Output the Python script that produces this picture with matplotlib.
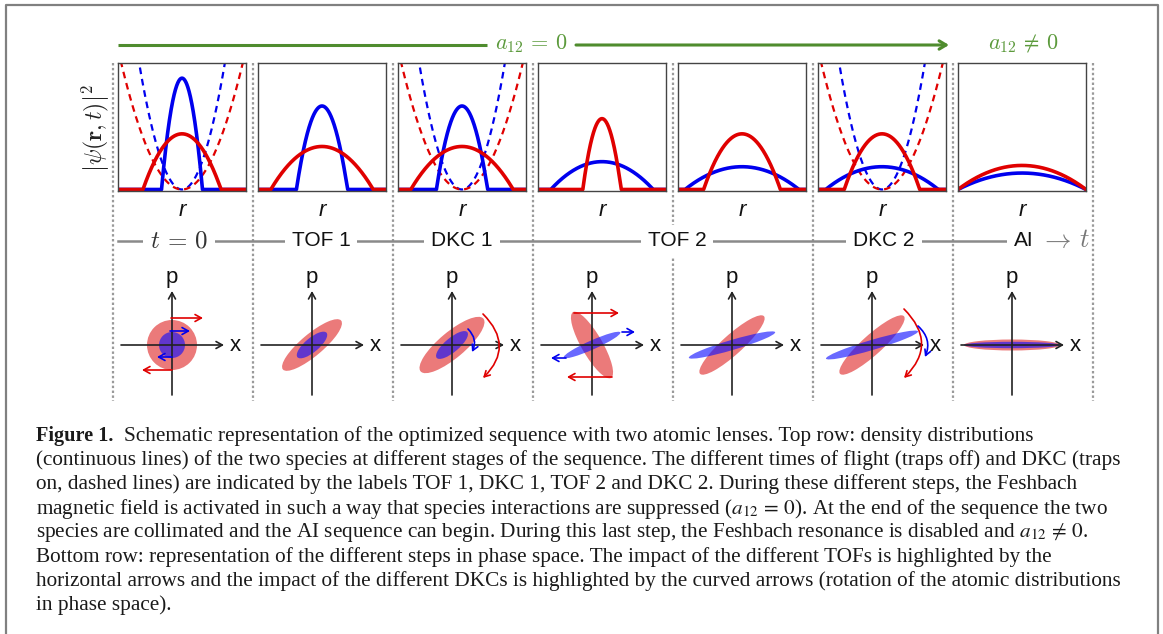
import numpy as np
import matplotlib
matplotlib.use('Agg')
import matplotlib.pyplot as plt
from matplotlib.patches import Ellipse, FancyArrowPatch

# ---------------- data ----------------
stage_labels = ['TOF 1', 'DKC 1', 'TOF 2', 'DKC 2']
# top row: Thomas-Fermi density profiles (peak height, radius), normalized box units
red_peak = [0.44, 0.34, 0.34, 0.56, 0.44, 0.44, 0.19]
red_radius = [0.61, 0.80, 0.80, 0.30, 0.60, 0.59, 1.00]
blue_peak = [0.88, 0.66, 0.66, 0.22, 0.18, 0.18, 0.13]
blue_radius = [0.32, 0.40, 0.40, 0.80, 0.89, 0.88, 1.00]
# dashed harmonic traps: half-width where potential reaches top of box (None = trap off)
red_trap = [0.95, None, 0.95, None, None, 0.95, None]
blue_trap = [0.67, None, 0.67, None, None, 0.67, None]

# bottom row: phase-space ellipses (semi-major, semi-minor, angle in degrees)
red_a = [25, 38, 41, 38, 43, 43, 48]
red_b = [25, 11, 13, 10.5, 10, 10, 5.5]
red_ang = [0, 40, 40, 120, 42, 42, 0]
blue_a = [13, 19, 20, 31, 45, 48, 48]
blue_b = [13, 7, 7, 4.5, 5, 5, 3.2]
blue_ang = [0, 40, 40, 24, 16.5, 16.5, 0]
# TOF horizontal arrows: (x_start, y, x_end)
red_tof = {0: [(-1, 27, 31), (0, -25, -30)], 3: [(-18, 32, 27), (20, -32, -25)]}
blue_tof = {0: [(-2, 14, 18), (0, -12, -15)], 3: [(30, 13, 43), (-26, -13, -41)]}
# DKC curved arrows: (start, end, curvature)
red_dkc = {2: ((31, 31), (31, -33), -0.5), 5: ((32, 36), (32, -33), -0.5)}
blue_dkc = {2: ((16, 16), (20, -7), -0.35), 5: ((46, 19), (53, -12), -0.35)}

caption_lines = [
    "Schematic representation of the optimized sequence with two atomic lenses. Top row: density distributions",
    "(continuous lines) of the two species at different stages of the sequence. The different times of flight (traps off) and DKC (traps",
    "on, dashed lines) are indicated by the labels TOF 1, DKC 1, TOF 2 and DKC 2. During these different steps, the Feshbach",
    r"magnetic field is activated in such a way that species interactions are suppressed ($a_{12}\,=\,0$). At the end of the sequence the two",
    r"species are collimated and the AI sequence can begin. During this last step, the Feshbach resonance is disabled and $a_{12}\,\neq\,0$.",
    "Bottom row: representation of the different steps in phase space. The impact of the different TOFs is highlighted by the",
    "horizontal arrows and the impact of the different DKCs is highlighted by the curved arrows (rotation of the atomic distributions",
    "in phase space).",
]

# ---------------- style ----------------
plt.rcParams['font.family'] = ['Liberation Sans', 'DejaVu Sans']
plt.rcParams['mathtext.fontset'] = 'cm'
RED = '#e00000'
BLUE = '#0000ee'
GREEN = '#4f8c2e'
GRAY = '#8a8a8a'

W, H = 1163, 634
fig = plt.figure(figsize=(W / 100, H / 100), dpi=100)


def add_px(x0, y0, w, h):
    return fig.add_axes([x0 / W, 1 - (y0 + h) / H, w / W, h / H])


# overlay in pixel coordinates
ov = add_px(0, 0, W, H)
ov.set_xlim(0, W)
ov.set_ylim(H, 0)
ov.axis('off')
ov.patch.set_alpha(0)

# border
ov.plot([6, 6, 1158, 1158], [H + 5, 5, 5, H + 5], color='#808080', lw=1.6, clip_on=False)

# separators
for k in range(8):
    xs = 113 + 140 * k
    ov.plot([xs, xs], [63, 401], color='#9a9a9a', lw=1.6, ls=(0, (1.1, 1.1)), zorder=1)

# green a12 arrow
ov.plot([118, 487], [45, 45], color=GREEN, lw=2.2, solid_capstyle='butt')
ov.annotate('', xy=(949, 45), xytext=(576, 45),
            arrowprops=dict(arrowstyle='->,head_length=0.5,head_width=0.3', lw=2.2, color=GREEN,
                            shrinkA=0, shrinkB=0))
ov.text(531, 44, r'$a_{12}\,=\,0$', color='#5c9a3c', fontsize=16, ha='center', va='center')
ov.text(1023, 44, r'$a_{12}\,\neq\,0$', color='#5c9a3c', fontsize=16, ha='center', va='center')

# y label
ov.text(96, 128, r'$\left|\psi(\mathbf{r},t)\right|^2$', rotation=90, fontsize=17,
        ha='center', va='center', color='#222222')

# timeline
ov.plot([118, 1008], [241, 241], color=GRAY, lw=1.8, zorder=2)
wb = dict(fc='white', ec='none', pad=5)
ov.text(179, 241, r'$t\,=\,0$', fontsize=18, ha='center', va='center', color='#333333', bbox=wb, zorder=3)
for lab, xc in zip(stage_labels, [321, 462, 677, 884]):
    ov.text(xc, 241, lab, fontsize=15, ha='center', va='center', color='#111111', bbox=wb, zorder=3)
ov.text(1024, 241, 'AI', fontsize=15, ha='center', va='center', color='#111111', bbox=wb, zorder=3)
ov.text(1040, 240, r'$\rightarrow\, t$', fontsize=19, ha='left', va='center', color='#777777', zorder=3)

# ---------------- top row ----------------
x = np.linspace(-1, 1, 801)
for k in range(7):
    ax = add_px(118 + 140 * k, 63, 128, 128)
    ax.set_xlim(-1, 1)
    ax.set_ylim(-0.012, 1)
    ax.set_xticks([])
    ax.set_yticks([])
    for s in ax.spines.values():
        s.set_color('#444444')
        s.set_linewidth(1.0)
    if blue_trap[k] is not None:
        ax.plot(x, (x / blue_trap[k]) ** 2, color=BLUE, lw=1.6, ls=(0, (3, 2.2)))
    if red_trap[k] is not None:
        ax.plot(x, (x / red_trap[k]) ** 2, color=RED, lw=1.6, ls=(0, (3, 2.2)))
    ax.plot(x, np.maximum(0, blue_peak[k] * (1 - (x / blue_radius[k]) ** 2)), color=BLUE, lw=2.6)
    ax.plot(x, np.maximum(0, red_peak[k] * (1 - (x / red_radius[k]) ** 2)), color=RED, lw=2.6)
    ov.text(182 + 140 * k, 210, 'r', fontsize=16, style='italic', ha='center', va='center', color='#111111')

# ---------------- bottom row ----------------
for k in range(7):
    cx = 172 + 140 * k
    ax = add_px(cx - 65, 262, 140, 140)
    ax.set_xlim(-65, 75)
    ax.set_ylim(-57, 83)
    ax.axis('off')
    ax.add_patch(Ellipse((0, 0), 2 * red_a[k], 2 * red_b[k], angle=red_ang[k],
                         fc=(0.86, 0.05, 0.05), alpha=0.55, ec='none', zorder=1))
    ax.add_patch(Ellipse((0, 0), 2 * blue_a[k], 2 * blue_b[k], angle=blue_ang[k],
                         fc=(0.05, 0.05, 1.0), alpha=0.62, ec='none', zorder=2))
    ap = dict(arrowstyle='->,head_length=0.45,head_width=0.25', lw=1.2, color='#222222',
              shrinkA=0, shrinkB=0)
    ax.annotate('', xy=(52, 0), xytext=(-51, 0), arrowprops=ap, zorder=3)
    ax.annotate('', xy=(0, 54), xytext=(0, -50), arrowprops=ap, zorder=3)
    ax.text(63, 0, 'x', fontsize=16, ha='center', va='center', color='#111111')
    ax.text(0, 68, 'p', fontsize=16, ha='center', va='center', color='#111111')
    for col, tof in ((RED, red_tof), (BLUE, blue_tof)):
        for (xs, ys, xe) in tof.get(k, []):
            ax.annotate('', xy=(xe, ys), xytext=(xs, ys), zorder=4,
                        arrowprops=dict(arrowstyle='->,head_length=0.45,head_width=0.25', lw=1.2,
                                        color=col, shrinkA=0, shrinkB=0))
    for col, dkc in ((RED, red_dkc), (BLUE, blue_dkc)):
        if k in dkc:
            (p0, p1, rad) = dkc[k]
            ax.add_patch(FancyArrowPatch(p0, p1, connectionstyle=f'arc3,rad={rad}',
                                         arrowstyle='->,head_length=4,head_width=2.2',
                                         lw=1.2, color=col, shrinkA=0, shrinkB=0, zorder=4))

# ---------------- caption ----------------
cap_font = dict(family='Liberation Serif', fontsize=15.3, color='#1a1a1a', va='center', ha='left',
                math_fontfamily='stix')
y0 = 436
ov.text(36, y0, 'Figure 1.', fontweight='bold', **{**cap_font, 'fontsize': 14.6})
ov.text(124, y0, caption_lines[0], **cap_font)
for i, line in enumerate(caption_lines[1:], start=1):
    ov.text(36, y0 + 24.2 * i, line, **cap_font)

fig.savefig('out.png', dpi=100)
